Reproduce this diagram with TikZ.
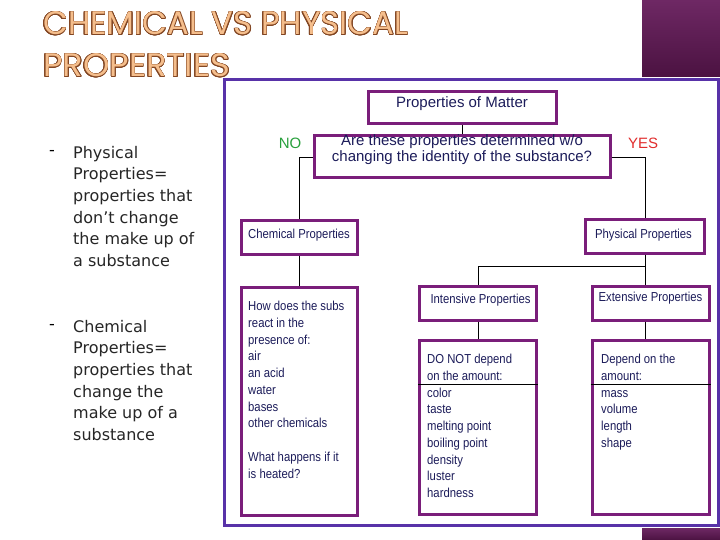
\documentclass[tikz,border=0pt]{standalone}
\usepackage{fontspec}
\usepackage{graphicx}
\usepackage{contour}
\contourlength{0.55pt}
\setmainfont{Liberation Sans}
\newfontfamily\narrowf[FakeStretch=0.87]{Liberation Sans}
\newfontfamily\bulletf{DejaVu Sans}
\newfontfamily\titlef{Poppins}
\definecolor{framec}{RGB}{88,50,168}
\definecolor{boxc}{RGB}{122,30,122}
\definecolor{navy}{RGB}{28,28,90}
\definecolor{barA}{RGB}{110,40,100}
\definecolor{barB}{RGB}{75,18,65}
\definecolor{titlefill}{RGB}{245,190,140}
\definecolor{titleline}{RGB}{130,70,35}
\definecolor{nogreen}{RGB}{40,160,60}
\definecolor{yesred}{RGB}{225,45,45}
\tikzset{
  natspace/.style={execute at begin node={\spaceskip=0pt\xspaceskip=0pt\relax}},
  box/.style={draw=boxc, line width=3pt, fill=white, inner sep=0pt},
  conn/.style={draw=black, line width=0.8pt},
  titletext/.style={font=\fontsize{15}{16}\selectfont, text=navy, inner sep=0pt, align=center, natspace},
  smalltitle/.style={font=\narrowf\fontsize{13}{16}\selectfont, text=navy, inner sep=0pt},
  listtext/.style={font=\narrowf\fontsize{13}{16.75}\selectfont, text=navy, inner sep=0pt, anchor=north west, text width=105pt, align=left, natspace},
  bullettext/.style={font=\bulletf\fontsize{16}{21.6}\selectfont, text=black!85, inner sep=0pt, anchor=north west, text width=145pt, align=left, natspace},
}
\begin{document}
\begin{tikzpicture}[x=1pt,y=-1pt]
\useasboundingbox (0,0) rectangle (720,540);
\fill[white] (0,0) rectangle (720,540);
% decorative bars
\shade[top color=barA, bottom color=barB] (642,0) rectangle (720,77);
\shade[top color=barA, bottom color=barB] (642,528) rectangle (720,540);
% title
\node[anchor=base west, inner sep=0pt] (t1) at (43,35)
  {\resizebox{365pt}{23pt}{\titlef\fontsize{32}{32}\selectfont\color{titlefill}\contour{titleline}{CHEMICAL VS PHYSICAL}}};
\node[anchor=base west, inner sep=0pt] (t2) at (43,77)
  {\resizebox{187pt}{23pt}{\titlef\fontsize{32}{32}\selectfont\color{titlefill}\contour{titleline}{PROPERTIES}}};
% bullets
\node[anchor=west, inner sep=0pt, font=\bulletf\fontsize{16}{16}\selectfont] (d1) at (49,153) {-};
\node[bullettext] (b1) at (73,146) {Physical\\ Properties=\\ properties that\\ don’t change\\ the make up of\\ a substance};
\node[anchor=west, inner sep=0pt, font=\bulletf\fontsize{16}{16}\selectfont] (d2) at (49,327) {-};
\node[bullettext] (b2) at (73,320) {Chemical\\ Properties=\\ properties that\\ change the\\ make up of a\\ substance};
% frame
\draw[framec, line width=3pt, fill=white] (224,80) rectangle (718,525);
% boxes
\node[box, minimum width=188pt, minimum height=32pt] (pm) at (462,108) {};
\node[titletext] (pmt) at (462,104) {Properties of Matter};
\node[box, minimum width=296pt, minimum height=42pt] (q) at (462,157) {};
\node[titletext] (qt) at (462,150) {Are these properties determined w/o\\ changing the identity of the substance?};
\node[box, minimum width=116pt, minimum height=33pt] (chem) at (299,237.5) {};
\node[smalltitle] (chemt) at (299,235) {Chemical Properties};
\node[box, minimum width=119pt, minimum height=33pt] (phys) at (645,236.5) {};
\node[smalltitle] (physt) at (643.5,235) {Physical Properties};
\node[box, minimum width=116pt, minimum height=228pt] (how) at (299,401) {};
\node[box, minimum width=117pt, minimum height=34pt] (int) at (478,303) {};
\node[smalltitle] (intt) at (480.5,300) {Intensive Properties};
\node[box, minimum width=117pt, minimum height=34pt] (ext) at (650.5,303) {};
\node[smalltitle] (extt) at (650.5,298) {Extensive Properties};
\node[box, minimum width=117pt, minimum height=174pt] (dn) at (478,427) {};
\node[box, minimum width=117pt, minimum height=174pt] (dep) at (650.5,427) {};
% labels
\node[font=\fontsize{15}{16}\selectfont, text=nogreen, inner sep=0pt] (no) at (290,143) {NO};
\node[font=\fontsize{15}{16}\selectfont, text=yesred, inner sep=0pt] (yes) at (643,143) {YES};
% connectors
\coordinate (brY) at (0,266);
\coordinate (divY) at (0,384);
\draw[conn] (pm.south) -- (q.north);
\draw[conn] (q.west) -| (chem.north);
\draw[conn] (q.east) -| (phys.north);
\draw[conn] (chem.south) -- (how.north);
\draw[conn] (phys.south) -- (phys.south |- ext.north);
\draw[conn] (phys.south |- brY) -| (int.north);
\draw[conn] (int.south) -- (dn.north);
\draw[conn] (phys.south |- ext.south) -- (phys.south |- dep.north);
\draw[line width=0.8pt] (dn.west |- divY) -- (dn.east |- divY);
\draw[line width=0.8pt] (dep.west |- divY) -- (dep.east |- divY);
% list texts
\node[listtext] (howt) at (248,301) {How does the subs\\ react in the\\ presence of:\\ air\\ an acid\\ water\\ bases\\ other chemicals\\[16.75pt] What happens if it\\ is heated?};
\node[listtext] (dnt) at (427,354) {DO NOT depend\\ on the amount:\\ color\\ taste\\ melting point\\ boiling point\\ density\\ luster\\ hardness};
\node[listtext] (dept) at (601,354) {Depend on the\\ amount:\\ mass\\ volume\\ length\\ shape};
\end{tikzpicture}
\end{document}
